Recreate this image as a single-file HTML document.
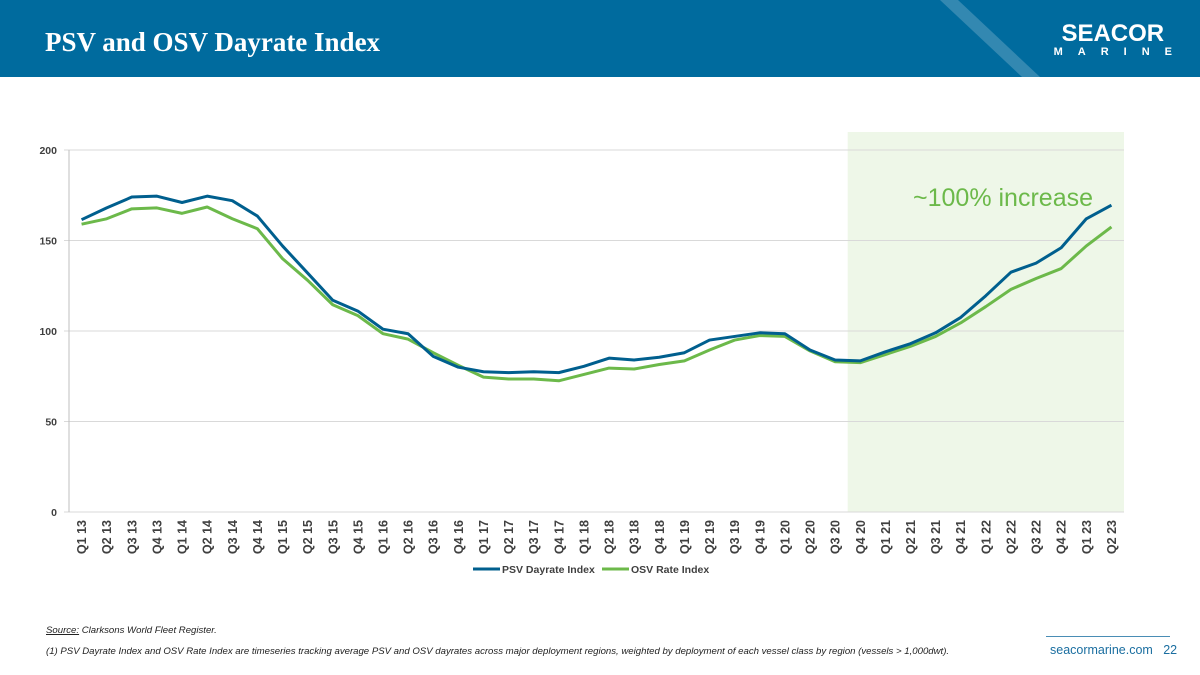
<!DOCTYPE html>
<html><head><meta charset="utf-8"><style>
body{margin:0;width:1200px;height:675px;overflow:hidden;background:#fff;font-family:"Liberation Sans",sans-serif;position:relative}
.hdr{position:absolute;left:0;top:0;width:1200px;height:77px;background:#006b9e;overflow:hidden}
.title{position:absolute;left:45px;top:27px;font-family:"Liberation Serif",serif;font-weight:bold;font-size:27px;color:#fff}
.logo{position:absolute;right:28px;top:22px;color:#fff;font-weight:bold;text-align:center}
.foot{position:absolute;font-size:9.6px;font-style:italic;color:#222}
</style></head><body>
<div class="hdr">
<svg width="1200" height="77" style="position:absolute;left:0;top:0"><polygon points="940,0 958,0 1040,77 1022,77" fill="#fff" opacity="0.2"/></svg>
<div class="title">PSV and OSV Dayrate Index</div>
<div class="logo"><div style="font-size:24px;letter-spacing:0px;line-height:24px">SEACOR</div><div style="font-size:11px;letter-spacing:15px;margin-right:-15px">MARINE</div></div>
</div>
<svg id="chart" width="1200" height="600" style="position:absolute;left:0;top:0"></svg>
<div class="foot" style="left:46px;top:625px"><u>Source:</u> Clarksons World Fleet Register.</div>
<div class="foot" style="left:46px;top:646px">(1) PSV Dayrate Index and OSV Rate Index are timeseries tracking average PSV and OSV dayrates across major deployment regions, weighted by deployment of each vessel class by region (vessels &gt; 1,000dwt).</div>
<div style="position:absolute;left:1046px;top:636px;width:124px;border-top:1px solid #4a8db5"></div>
<div style="position:absolute;left:1050px;top:643px;font-size:12.5px;color:#1a6ea0">seacormarine.com &nbsp;&nbsp;22</div>
<script>
const categories=[];for(let y=13;y<=23;y++)for(let q=1;q<=4;q++){if(y===23&&q>2)break;categories.push('Q'+q+' '+y);}
const psv=[161.5,168,174,174.5,171,174.5,172,163.5,147,132,117,111,101,98.5,86,80,77.5,77,77.5,77,80.5,85,84,85.5,88,95,97,99,98.5,89.5,84,83.5,88.5,93,99,107.5,119.5,132.5,137.5,146,162,169.5];
const osv=[159,162,167.5,168,165,168.5,162,156.5,140,128,114.5,108.5,98.5,95.5,88,81,74.5,73.5,73.5,72.5,76,79.5,79,81.5,83.5,89.5,95,97.5,97,89,83,82.5,87,91.5,97,104.5,113.5,123,129,134.5,147,157.5];
const yTicks=[0,50,100,150,200];
const svg=document.getElementById('chart');const NS='http://www.w3.org/2000/svg';
const L=69,R=1124,T=150,B=512;const bw=(R-L)/categories.length;
const x=i=>L+bw*(i+0.5);const y=v=>B-(v/200)*(B-T);
function mk(t,a,p){const e=document.createElementNS(NS,t);for(const k in a)e.setAttribute(k,a[k]);(p||svg).appendChild(e);return e;}
let e=mk('rect',{x:x(30.5),y:132,width:R-x(30.5),height:B-132,fill:'#eef7e8'});


yTicks.forEach(v=>{let g=mk('line',{x1:L-5,x2:R,y1:y(v),y2:y(v),stroke:'#d9d9d9','stroke-width':1});


let t=mk('text',{x:L-12,y:y(v)+4,'text-anchor':'end','font-size':'10.5','font-weight':'bold',fill:'#404040'});t.textContent=v;

});
e=mk('line',{x1:L,x2:L,y1:T,y2:B,stroke:'#bfbfbf'});


categories.forEach((c,i)=>{let t=mk('text',{transform:`translate(${x(i)+4.5},${B+8}) rotate(-90)`,'text-anchor':'end','font-size':'12.5','font-weight':'bold',fill:'#404040'});t.textContent=c;

});
function line(d,col,name){let p=mk('polyline',{points:d.map((v,i)=>x(i)+','+y(v)).join(' '),fill:'none',stroke:col,'stroke-width':3,'stroke-linejoin':'round'});

}
line(osv,'#6cb94a','osv-line');line(psv,'#005f8e','psv-line');
e=mk('text',{x:1093,y:206,'text-anchor':'end','font-size':'25',fill:'#6cb94a'});e.textContent='~100% increase';


[['PSV Dayrate Index','#005f8e',473],['OSV Rate Index','#6cb94a',602]].forEach(([n,c,lx])=>{
let g=mk('line',{x1:lx,x2:lx+27,y1:569,y2:569,stroke:c,'stroke-width':3});


let t=mk('text',{x:lx+29,y:573,'font-size':'10.5','font-weight':'bold',fill:'#404040'});t.textContent=n;

});
</script>
</body></html>
